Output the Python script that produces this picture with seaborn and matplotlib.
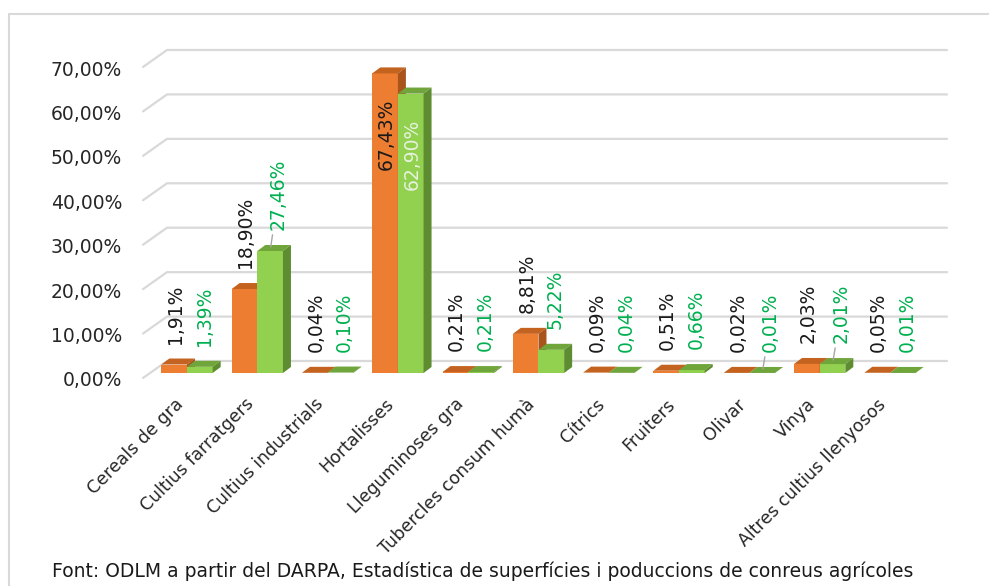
import matplotlib
matplotlib.use("Agg")
import matplotlib.pyplot as plt
from matplotlib.transforms import ScaledTranslation, IdentityTransform
from matplotlib.patches import Polygon, Rectangle
from matplotlib.lines import Line2D
import seaborn as sns
import pandas as pd

# Data
cultius = ["Cereals de gra", "Cultius farratgers", "Cultius industrials", "Hortalisses",
           "Lleguminoses gra", "Tubercles consum humà", "Cítrics", "Fruiters",
           "Olivar", "Vinya", "Altres cultius llenyosos"]
serie_1 = [1.91, 18.90, 0.04, 67.43, 0.21, 8.81, 0.09, 0.51, 0.02, 2.03, 0.05]
serie_2 = [1.39, 27.46, 0.10, 62.90, 0.21, 5.22, 0.04, 0.66, 0.01, 2.01, 0.01]
series = ["Sèrie 1", "Sèrie 2"]
yticks = [0, 10, 20, 30, 40, 50, 60, 70]
font_text = "Font: ODLM a partir del DARPA, Estadística de superfícies i poduccions de conreus agrícoles"

# labels on these bars get a leader line (green series)
leader_2 = ["Cultius farratgers", "Olivar", "Vinya"]

df = pd.DataFrame({
    "cultiu": cultius * 2,
    "pct": serie_1 + serie_2,
    "serie": [series[0]] * len(cultius) + [series[1]] * len(cultius),
})

orange, orange_top, orange_side = "#ED7D31", "#C4631F", "#A8541A"
green, green_top, green_side = "#92D050", "#6FA53A", "#5E8C30"
grid_c = "#D9D9D9"

sns.set_style("white")
plt.rcParams["font.family"] = ["DejaVu Sans"]

W, H = 989, 586
fig = plt.figure(figsize=(W / 100, H / 100), dpi=100)
ax = fig.add_axes([143 / W, (H - 373) / H, 780 / W, 311 / H])

sns.barplot(data=df, x="cultiu", y="pct", hue="serie", palette=[orange, green],
            width=0.73, saturation=1, legend=False, ax=ax, zorder=2)

ax.set_xlim(-0.626, 10.47)
ax.set_ylim(0, 70)
for s in ax.spines.values():
    s.set_visible(False)
ax.set_xlabel("")
ax.set_ylabel("")
ax.set_yticks(yticks)
ax.set_yticklabels([f"{v:.2f}".replace(".", ",") + "%" for v in yticks],
                   fontsize=13.5, color="#262626")
ax.tick_params(axis="y", length=0, pad=15)
ax.set_xticks(range(len(cultius)))
ax.set_xticklabels(cultius, rotation=45, ha="right", va="top", rotation_mode="anchor",
                   fontsize=12.5, color="#262626")
ax.tick_params(axis="x", length=0, pad=16)
yshift = ScaledTranslation(0, -6 / 100, fig.dpi_scale_trans)
for t in ax.yaxis.get_major_ticks():
    t.label1.set_transform(t.label1.get_transform() + yshift)
xshift = ScaledTranslation(-13 / 100, 0, fig.dpi_scale_trans)
for t in ax.xaxis.get_major_ticks():
    t.label1.set_transform(t.label1.get_transform() + xshift)

# pseudo 3D: depth offset in data units
px_x = 780 / (10.47 + 0.626)
px_y = 311 / 70
dx, dy = 8 / px_x, 6 / px_y

faces = [(orange_top, orange_side, 2.5), (green_top, green_side, 3.5)]
for k, cont in enumerate(ax.containers):
    top_c, side_c, z = faces[k]
    for bar in cont.patches:
        bar.set_zorder(2 if k == 0 else 3)
        bar.set_edgecolor("none")
        x0, x1, h = bar.get_x(), bar.get_x() + bar.get_width(), bar.get_height()
        ax.add_patch(Polygon([(x0, h), (x1, h), (x1 + dx, h + dy), (x0 + dx, h + dy)],
                             closed=True, fc=top_c, ec="none", zorder=z, clip_on=False))
        ax.add_patch(Polygon([(x1, 0), (x1 + dx, dy), (x1 + dx, h + dy), (x1, h)],
                             closed=True, fc=side_c, ec="none", zorder=z, clip_on=False))

# data labels
for k, cont in enumerate(ax.containers):
    vals = serie_1 if k == 0 else serie_2
    for i, bar in enumerate(cont.patches):
        v = vals[i]
        txt = f"{v:.2f}".replace(".", ",") + "%"
        xc = bar.get_x() + bar.get_width() / 2
        if v > 50:
            ax.annotate(txt, (xc, v), xytext=(1, -18), textcoords="offset points",
                        rotation=90, ha="center", va="top", fontsize=13.5,
                        color="#1A1A1A" if k == 0 else "#E6F2DC", zorder=6)
            continue
        col = "#1A1A1A" if k == 0 else "#00B050"
        xoff = 1 if k == 0 else 3
        arrow = None
        if k == 1 and cultius[i] in leader_2:
            xoff = 6
            arrow = dict(arrowstyle="-", color="#A6A6A6", lw=1, shrinkA=1, shrinkB=3)
        ax.annotate(txt, (xc, v), xytext=(xoff, 15), textcoords="offset points",
                    rotation=90, ha="center", va="bottom", fontsize=13.5, color=col,
                    arrowprops=arrow, zorder=6)

# back-wall gridlines with the 3D corner
fig.canvas.draw()
for v in yticks:
    x0d, yd = ax.transData.transform((ax.get_xlim()[0], v))
    xs = [x0d, x0d + 24, x0d + 24 + 780]
    ys = [yd - 5, yd + 12, yd + 12]
    ax.add_line(Line2D(xs, ys, transform=IdentityTransform(), color=grid_c, lw=1.6,
                       zorder=0.5, clip_on=False))

# outer frame
fig.add_artist(Rectangle((9 / W, -0.1), 1.2, (H - 14) / H + 0.1, transform=fig.transFigure,
                         fill=False, ec=grid_c, lw=1.5))

fig.text(52 / W, 1 - 577 / H, font_text, fontsize=13.5, color="#1A1A1A", va="baseline")

fig.savefig("out.png", dpi=100)
